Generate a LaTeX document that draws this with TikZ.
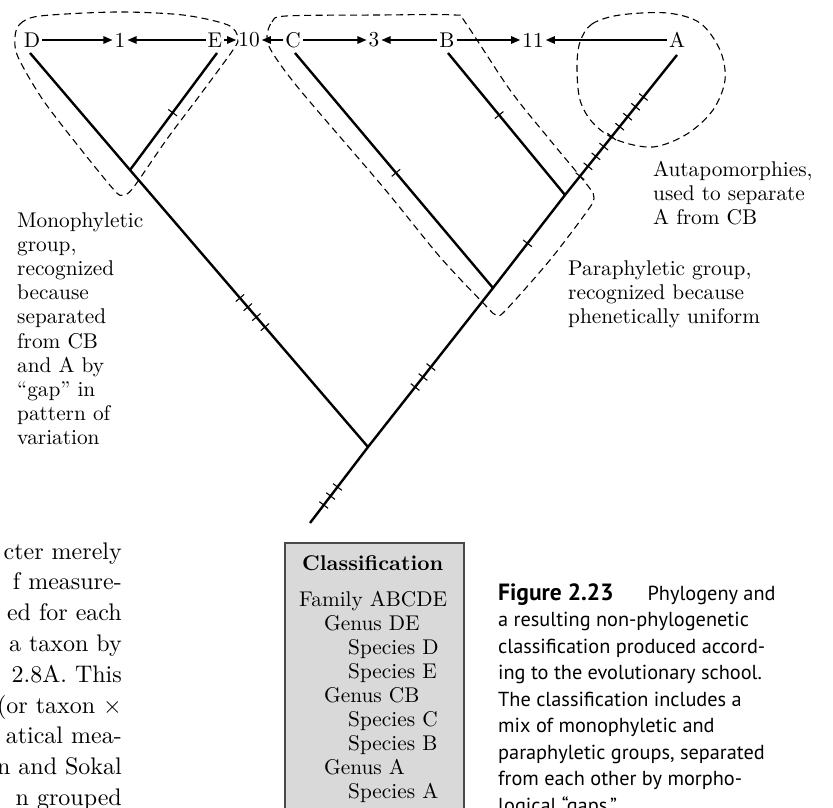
\documentclass[tikz,border=0pt]{standalone}
\usepackage{fontspec}
\setmainfont{lmroman10-regular}[Extension=.otf, BoldFont=lmroman10-bold,
  ItalicFont=lmroman10-italic]
\usetikzlibrary{arrows.meta,decorations.markings}
\newfontfamily\capfont{PT Sans}
\newcommand\labfont{\fontsize{21.3}{24}\selectfont}
\newcommand\bodyfont{\fontsize{24}{30.8}\selectfont}
\newcommand\captionfont{\capfont\fontsize{20.3}{26.5}\selectfont}
\definecolor{boxfill}{HTML}{D9D9D9}
\definecolor{boxedge}{HTML}{4A4A4A}
\tikzset{
  branch/.style={line width=2.4pt},
  tickline/.style={line width=1.1pt},
  tickat/.style={postaction={decorate,decoration={markings,
      mark=at position #1 with {\draw[tickline] (0,-5.5pt) -- (0,5.5pt);}}}},
  taxon/.style={font=\labfont, inner sep=2pt},
  arr/.style={line width=1.2pt, -{Triangle[length=9pt,width=7.5pt]}},
  grp/.style={line width=1.1pt, dash pattern=on 7pt off 4.5pt},
  lab/.style={font=\labfont, anchor=base west, inner sep=0pt},
  body/.style={font=\bodyfont, anchor=base east, inner sep=0pt},
  capline/.style={font=\captionfont, anchor=base west, inner sep=0pt},
  classbox/.style={fill=boxfill, draw=boxedge, line width=1.5pt}
}
\begin{document}
\begin{tikzpicture}[x=1pt,y=-1pt]
\useasboundingbox (0,0) rectangle (833,808);

% taxa and character states along the top
\node[taxon] (D) at (32,40) {D};
\node[taxon] (one) at (120,40) {1};
\node[taxon] (E) at (215,40) {E};
\node[taxon] (ten) at (249,40) {10};
\node[taxon] (C) at (293,40) {C};
\node[taxon] (three) at (374,40) {3};
\node[taxon] (B) at (447,40) {B};
\node[taxon] (eleven) at (533,40) {11};
\node[taxon] (A) at (677,40) {A};

\draw[arr] (D) -- (one);
\draw[arr] (E) -- (one);
\draw[arr] (E) -- (ten);
\draw[arr] (C) -- (ten);
\draw[arr] (C) -- (three);
\draw[arr] (B) -- (three);
\draw[arr] (B) -- (eleven);
\draw[arr] (A) -- (eleven);

% tree
\coordinate (tD) at (30,53);
\coordinate (tE) at (217,53);
\coordinate (tC) at (295,53);
\coordinate (tB) at (448,53);
\coordinate (tA) at (677,55);
\coordinate (nDE) at (130,170);
\coordinate (n1) at (368,447);
\coordinate (n2) at (493,288);
\coordinate (n3) at (565,195);
\coordinate (root) at (310,523);

\draw[branch] (tD) -- (nDE) -- (n1);
\draw[branch] (tE) -- (nDE);
\draw[branch] (root) -- (n1) -- (n2) -- (n3) -- (tA);
\draw[branch] (tC) -- (n2);
\draw[branch] (tB) -- (n3);

% character changes
\path[tickat=0.51] (tE) -- (nDE);
\path[tickat=0.462, tickat=0.495, tickat=0.531, tickat=0.567] (nDE) -- (n1);
\path[tickat=0.237, tickat=0.355, tickat=0.474] (root) -- (n1);
\path[tickat=0.377, tickat=0.44, tickat=0.503] (n1) -- (n2);
\path[tickat=0.48] (n2) -- (n3);
\path[tickat=0.51] (tC) -- (n2);
\path[tickat=0.437] (tB) -- (n3);
\path[tickat=0.134, tickat=0.205, tickat=0.276, tickat=0.346, tickat=0.417,
      tickat=0.488, tickat=0.559, tickat=0.63, tickat=0.70] (n3) -- (tA);

% group outlines
\draw[grp] plot[smooth cycle, tension=0.5] coordinates {
  (15,37) (20,24) (40,16) (117,12) (183,15) (228,25) (238,38) (233,50)
  (200,95) (167,139) (133,188) (123,195) (115,191) (83,152) (43,100) (18,57)};
\draw[grp] plot[smooth cycle, tension=0.5] coordinates {
  (267,36) (272,22) (286,16) (380,15) (455,15) (465,22) (510,90) (550,140)
  (588,186) (594,198) (588,210) (550,260) (505,311) (496,315) (486,306)
  (440,257) (383,187) (300,90) (272,52)};
\draw[grp] plot[smooth cycle, tension=0.55] coordinates {
  (580,42) (592,24) (620,15) (667,13) (700,23) (720,50) (725,80) (713,110)
  (687,134) (653,147) (617,140) (593,123) (580,100) (577,67)};

% annotations
\foreach [count=\i] \t in {Monophyletic, {group,}, recognized, because, separated,
    from CB, and A by, “gap” in, pattern of, variation}
  \node[lab] (mono\i) at (17,{227.5+24.1*(\i-1)}) {\t};
\foreach [count=\i] \t in {{Autapomorphies,}, used to separate, A from CB}
  \node[lab] (auta\i) at (653,{176+24*(\i-1)}) {\t};
\foreach [count=\i] \t in {{Paraphyletic group,}, recognized because, phenetically uniform}
  \node[lab] (para\i) at (568,{275+24*(\i-1)}) {\t};

% running text at the left margin
\foreach [count=\i] \t in {cter merely, f measure-, ed for each, a taxon by, 2.8A. This,
    {\relax(or taxon ×}, atical mea-, n and Sokal, n grouped}
  \node[body] (txt\i) at (122,{559+30.8*(\i-1)}) {\t};

% classification box
\draw[classbox] (285,543) rectangle (464,830);
\node[lab] (clhead) at (302,570) {\bfseries Classification};
\node[lab] (fam) at (299,606) {Family ABCDE};
\node[lab] (gDE) at (324,630.1) {Genus DE};
\node[lab] (sD) at (348,654.2) {Species D};
\node[lab] (sE) at (348,678.3) {Species E};
\node[lab] (gCB) at (324,702.4) {Genus CB};
\node[lab] (sC) at (348,726.5) {Species C};
\node[lab] (sB) at (348,750.6) {Species B};
\node[lab] (gA) at (324,774.7) {Genus A};
\node[lab] (sA) at (348,798.8) {Species A};

% caption
\node[capline] (cap1) at (498,600)
  {{\fontsize{23.5}{26.5}\selectfont\bfseries Figure 2.23}\hspace{34pt}Phylogeny and};
\foreach [count=\i from 2] \t in {a resulting non-phylogenetic,
    classification produced accord-, ing to the evolutionary school.,
    The classification includes a, mix of monophyletic and,
    {paraphyletic groups, separated}, from each other by morpho-,
    logical “gaps.”}
  \node[capline] (cap\i) at (498,{600+26.5*(\i-1)}) {\t};
\end{tikzpicture}
\end{document}
